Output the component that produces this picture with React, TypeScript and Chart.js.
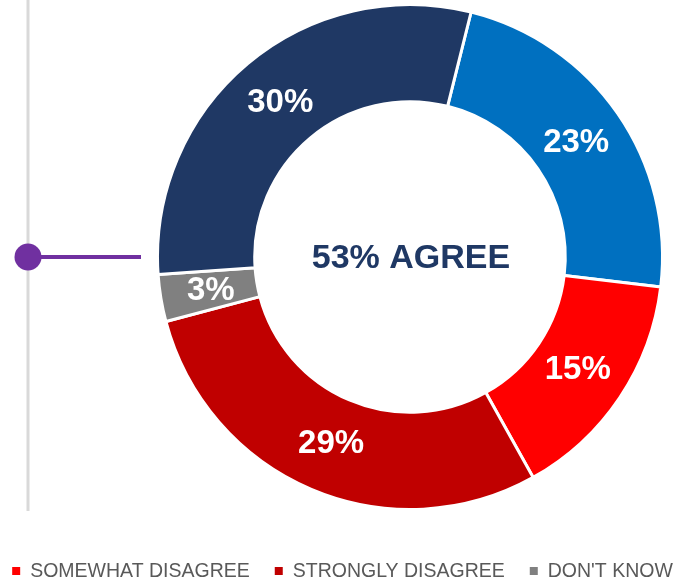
import React, { useEffect, useRef } from "react";
import { Chart, registerables } from "chart.js";

Chart.register(...registerables);

const categories = ["SOMEWHAT AGREE", "SOMEWHAT DISAGREE", "STRONGLY DISAGREE", "DON'T KNOW", "STRONGLY AGREE"];
const values = [23, 15, 29, 3, 30];
const valueLabels = ["23%", "15%", "29%", "3%", "30%"];
const colors = ["#0070C0", "#FF0000", "#C00000", "#808080", "#1F3864"];
const legendCategories = ["SOMEWHAT DISAGREE", "STRONGLY DISAGREE", "DON'T KNOW"];
const centerText = "53% AGREE";

const FONT = "'Liberation Sans', Arial, sans-serif";

const decorPlugin = {
  id: "decor",
  beforeDraw(chart: any) {
    const ctx = chart.ctx;
    ctx.save();
    ctx.strokeStyle = "#D9D9D9";
    ctx.lineWidth = 3;
    ctx.beginPath();
    ctx.moveTo(28, 0);
    ctx.lineTo(28, 511);
    ctx.stroke();
    const cy = chart.chartArea.top + chart.chartArea.height / 2;
    ctx.strokeStyle = "#7030A0";
    ctx.lineWidth = 4;
    ctx.beginPath();
    ctx.moveTo(28, cy);
    ctx.lineTo(141, cy);
    ctx.stroke();
    ctx.fillStyle = "#7030A0";
    ctx.beginPath();
    ctx.arc(28, cy, 13.5, 0, Math.PI * 2);
    ctx.fill();
    ctx.restore();
  },
};

const labelsPlugin = {
  id: "arcLabels",
  afterDatasetsDraw(chart: any) {
    const ctx = chart.ctx;
    const meta = chart.getDatasetMeta(0);
    ctx.save();
    ctx.fillStyle = "#FFFFFF";
    ctx.font = `bold 33px ${FONT}`;
    ctx.textAlign = "center";
    ctx.textBaseline = "alphabetic";
    meta.data.forEach((arc: any, i: number) => {
      const p = arc.getProps(["x", "y", "startAngle", "endAngle", "innerRadius", "outerRadius"], true);
      const mid = (p.startAngle + p.endAngle) / 2;
      const r = (p.innerRadius + p.outerRadius) / 2 - 2;
      const x = p.x + Math.cos(mid) * r;
      const y = p.y + Math.sin(mid) * r;
      ctx.fillText(valueLabels[i], x, y + 10);
    });
    // center text
    const first = meta.data[0];
    ctx.fillStyle = "#1F3864";
    ctx.font = `bold 34px ${FONT}`;
    ctx.fillText(centerText, first.x + 1, first.y + 11);
    ctx.restore();
  },
};

const legendPlugin = {
  id: "customLegend",
  afterDraw(chart: any) {
    const ctx = chart.ctx;
    ctx.save();
    ctx.font = `19.5px ${FONT}`;
    ctx.textBaseline = "alphabetic";
    ctx.textAlign = "left";
    const box = 8;
    const gapBox = 10;
    const gapItem = 25;
    const widths = legendCategories.map((t) => ctx.measureText(t).width);
    const total = widths.reduce((a, w) => a + box + gapBox + w, 0) + gapItem * (legendCategories.length - 1);
    let x = chart.width / 2 - total / 2;
    const baseline = 577;
    legendCategories.forEach((t, i) => {
      const idx = categories.indexOf(t);
      ctx.fillStyle = colors[idx];
      ctx.fillRect(x, baseline - 10, box, box);
      x += box + gapBox;
      ctx.fillStyle = "#595959";
      ctx.fillText(t, x, baseline);
      x += widths[i] + gapItem;
    });
    ctx.restore();
  },
};

export default function App() {
  const ref = useRef<HTMLCanvasElement>(null);
  useEffect(() => {
    if (!ref.current) return;
    const chart = new Chart(ref.current, {
      type: "doughnut",
      data: {
        labels: categories,
        datasets: [
          {
            data: values,
            backgroundColor: colors,
            borderColor: "#FFFFFF",
            borderWidth: 3,
          },
        ],
      },
      options: {
        responsive: false,
        animation: false,
        rotation: 14,
        cutout: "61.5%",
        layout: { padding: { left: 156, right: 21, top: 3, bottom: 68 } },
        plugins: {
          legend: { display: false },
          tooltip: { enabled: false },
        },
      },
      plugins: [decorPlugin, labelsPlugin, legendPlugin],
    });
    return () => chart.destroy();
  }, []);
  return (
    <div style={{ position: "fixed", left: 0, top: 0, width: 685, height: 579, background: "#fff" }}>
      <canvas ref={ref} width={685} height={579} style={{ display: "block" }} />
    </div>
  );
}
